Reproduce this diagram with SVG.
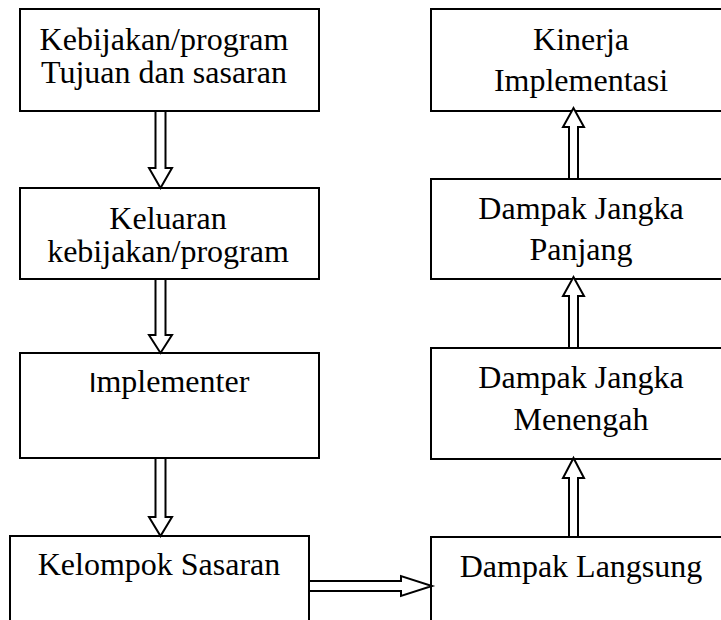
<svg xmlns="http://www.w3.org/2000/svg" width="721" height="620" viewBox="0 0 721 620">
<style>
.box{fill:#fff;stroke:#000;stroke-width:2}
.arr{fill:#fff;stroke:#000;stroke-width:2;stroke-linejoin:miter}
</style>
<rect width="721" height="620" fill="#fff"/>
<g font-family="Liberation Serif, serif" font-size="32" text-anchor="middle" fill="#000">
<g id="n1"><rect class="box" x="20" y="9" width="299" height="102"/><text x="164" y="50">Kebijakan/program</text><text x="164" y="83">Tujuan dan sasaran</text></g>
<g id="n2"><rect class="box" x="20" y="188" width="299" height="91"/><text x="168" y="229">Keluaran</text><text x="168" y="262">kebijakan/program</text></g>
<g id="n3"><rect class="box" x="20" y="353" width="299" height="105"/><text x="169" y="392"><tspan font-family="Liberation Sans, sans-serif" font-size="28">I</tspan>mplementer</text></g>
<g id="n4"><rect class="box" x="10" y="536" width="299" height="100"/><text x="159" y="575">Kelompok Sasaran</text></g>
<g id="n5"><rect class="box" x="431" y="9" width="300" height="102"/><text x="581" y="50">Kinerja</text><text x="581" y="91">Implementasi</text></g>
<g id="n6"><rect class="box" x="431" y="179" width="300" height="100"/><text x="581" y="219">Dampak Jangka</text><text x="581" y="260">Panjang</text></g>
<g id="n7"><rect class="box" x="431" y="348" width="300" height="111"/><text x="581" y="388">Dampak Jangka</text><text x="581" y="430">Menengah</text></g>
<g id="n8"><rect class="box" x="431" y="537" width="300" height="100"/><text x="581" y="577">Dampak Langsung</text></g>
</g>
<g id="connectors">
<polygon class="arr" points="155.5,111 165.5,111 165.5,168 172,168 160.5,188 149,168 155.5,168"/>
<polygon class="arr" points="155.5,279 165.5,279 165.5,335 172,335 160.5,353 149,335 155.5,335"/>
<polygon class="arr" points="155.5,458 165.5,458 165.5,517 172,517 160.5,536 149,517 155.5,517"/>
<polygon class="arr" points="569,179 578,179 578,127 584,127 573.5,108 563,127 569,127"/>
<polygon class="arr" points="569,348 578,348 578,296 584,296 573.5,277 563,296 569,296"/>
<polygon class="arr" points="569,537 578,537 578,478 584,478 573.5,458 563,478 569,478"/>
<polygon class="arr" points="309,581 401,581 401,576 432,586 401,596 401,591 309,591"/>
</g>
</svg>
